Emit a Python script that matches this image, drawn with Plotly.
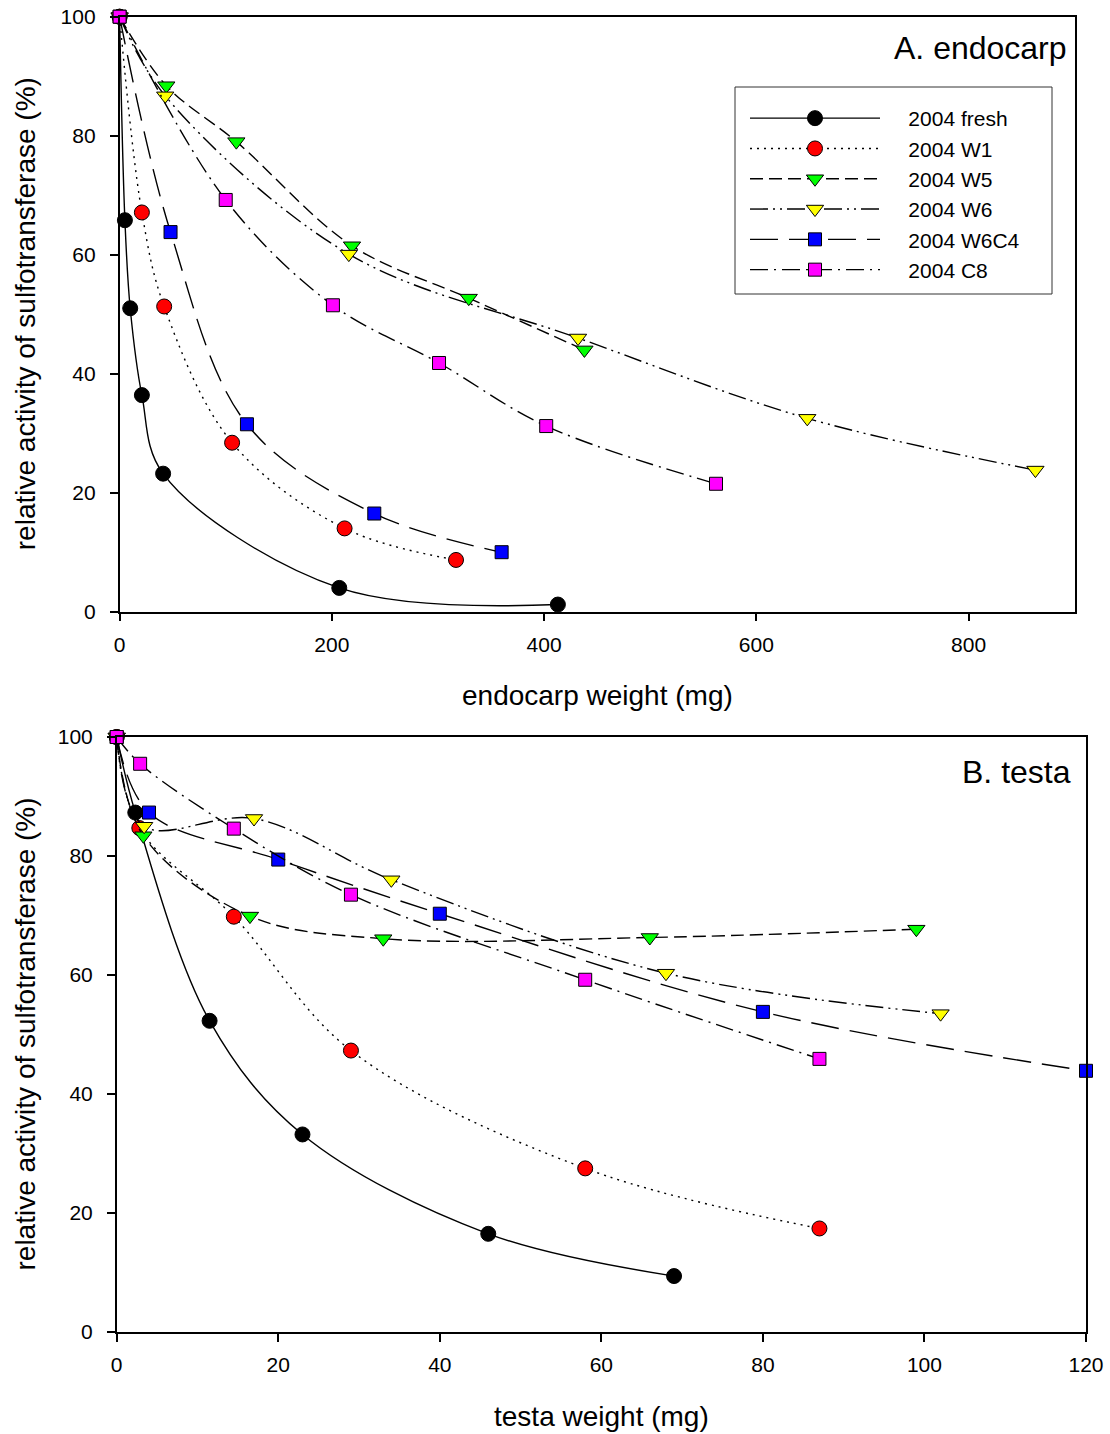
import plotly.graph_objects as go

# ---------------- data ----------------
series_names = ["2004 fresh", "2004 W1", "2004 W5", "2004 W6", "2004 W6C4", "2004 C8"]

# Panel A: endocarp
endo_fresh_x = [0, 5, 10, 21, 41, 207, 413]
endo_fresh_y = [100, 65.8, 51.0, 36.4, 23.2, 4.0, 1.2]
endo_w1_x = [0, 21, 42, 106, 212, 317]
endo_w1_y = [100, 67.1, 51.3, 28.4, 14.0, 8.7]
endo_w5_x = [0, 44, 110, 219, 329, 438]
endo_w5_y = [100, 88.4, 79.0, 61.5, 52.7, 44.0]
endo_w6_x = [0, 43, 216, 432, 648, 863]
endo_w6_y = [100, 86.7, 60.1, 46.0, 32.5, 23.8]
endo_w6c4_x = [0, 48, 120, 240, 360]
endo_w6c4_y = [100, 63.8, 31.5, 16.5, 10.0]
endo_c8_x = [0, 100, 201, 301, 402, 562]
endo_c8_y = [100, 69.2, 51.5, 41.8, 31.2, 21.5]

# Panel B: testa
testa_fresh_x = [0, 2.3, 11.5, 23, 46, 69]
testa_fresh_y = [100, 87.3, 52.3, 33.2, 16.5, 9.4]
testa_w1_x = [0, 2.8, 14.5, 29, 58, 87]
testa_w1_y = [100, 84.7, 69.8, 47.3, 27.5, 17.4]
testa_w5_x = [0, 3.3, 16.5, 33, 66, 99]
testa_w5_y = [100, 83.4, 69.9, 66.1, 66.3, 67.7]
testa_w6_x = [0, 3.4, 17, 34, 68, 102]
testa_w6_y = [100, 85.0, 86.3, 76.0, 60.3, 53.5]
testa_w6c4_x = [0, 4, 20, 40, 80, 120]
testa_w6c4_y = [100, 87.3, 79.4, 70.3, 53.8, 43.9]
testa_c8_x = [0, 2.9, 14.5, 29, 58, 87]
testa_c8_y = [100, 95.5, 84.6, 73.5, 59.2, 45.9]

x_ticks_a = [0, 200, 400, 600, 800]
x_ticks_b = [0, 20, 40, 60, 80, 100, 120]
y_ticks = [0, 20, 40, 60, 80, 100]

# ---------------- styles ----------------
styles = [
    dict(symbol="circle", color="black", size=15, dash="solid"),
    dict(symbol="circle", color="#ff0000", size=15, dash="2px,5px"),
    dict(symbol="triangle-down", color="#00ff00", size=15, dash="13px,6px"),
    dict(symbol="triangle-down", color="#ffff00", size=15, dash="18px,5px,2px,5px,2px,5px"),
    dict(symbol="square", color="#0000ff", size=13, dash="28px,11px"),
    dict(symbol="square", color="#ff00ff", size=13, dash="18px,6px,2px,6px"),
]

panel_a = [(endo_fresh_x, endo_fresh_y), (endo_w1_x, endo_w1_y), (endo_w5_x, endo_w5_y),
           (endo_w6_x, endo_w6_y), (endo_w6c4_x, endo_w6c4_y), (endo_c8_x, endo_c8_y)]
panel_b = [(testa_fresh_x, testa_fresh_y), (testa_w1_x, testa_w1_y), (testa_w5_x, testa_w5_y),
           (testa_w6_x, testa_w6_y), (testa_w6c4_x, testa_w6c4_y), (testa_c8_x, testa_c8_y)]

FONT = "Arial, Liberation Sans, sans-serif"
NBSP = "\u00a0"

fig = go.Figure()
for panel, (xa, ya, show) in zip([panel_a, panel_b], [("x", "y", True), ("x2", "y2", False)]):
    for name, (xs, ys), st in zip(series_names, panel, styles):
        fig.add_trace(go.Scatter(
            x=xs, y=ys, name=NBSP * 4 + name, xaxis=xa, yaxis=ya, showlegend=show,
            mode="lines+markers", cliponaxis=False,
            line=dict(color="black", width=1.4, dash=st["dash"], shape="spline", smoothing=1.0),
            marker=dict(symbol=st["symbol"], size=st["size"], color=st["color"],
                        line=dict(color="black", width=1)),
        ))

W, H = 1110, 1434
def px(v):
    return v / W
def py(v):
    return 1 - v / H

axis_common = dict(
    showline=True, linecolor="black", linewidth=1.5, mirror=True,
    ticks="outside", ticklen=8, tickwidth=1.5, tickcolor="black",
    showgrid=False, zeroline=False, automargin=False,
    tickfont=dict(family=FONT, size=21, color="black"),
)

fig.update_layout(
    template="none",
    width=W, height=H,
    margin=dict(l=0, r=0, t=0, b=0, pad=0, autoexpand=False),
    paper_bgcolor="white", plot_bgcolor="white",
    xaxis=dict(domain=[px(119.6), px(1074.7)], range=[0, 900], tickvals=x_ticks_a,
               anchor="y", ticklabelstandoff=5, **axis_common),
    yaxis=dict(domain=[py(611.7), py(16.7)], range=[0, 100], tickvals=y_ticks,
               anchor="x", ticklabelstandoff=10, **axis_common),
    xaxis2=dict(domain=[px(116.7), px(1086)], range=[0, 120], tickvals=x_ticks_b,
                anchor="y2", ticklabelstandoff=5, **axis_common),
    yaxis2=dict(domain=[py(1332), py(737)], range=[0, 100], tickvals=y_ticks,
                anchor="x2", ticklabelstandoff=10, **axis_common),
    legend=dict(
        x=px(745), y=py(98), xanchor="left", yanchor="top",
        borderwidth=0, bgcolor="rgba(0,0,0,0)",
        font=dict(family=FONT, size=21, color="black"),
        itemwidth=130, tracegroupgap=0,
    ),
    showlegend=True,
)

# legend frame
fig.add_shape(type="rect", xref="paper", yref="paper",
              x0=px(735), x1=px(1052), y0=py(294), y1=py(87),
              line=dict(color="#333333", width=1), fillcolor="rgba(0,0,0,0)", layer="above")

ann_font = dict(family=FONT, size=28, color="black")
fig.add_annotation(text="endocarp weight (mg)", x=px((119.6 + 1074.7) / 2), y=py(695),
                   xref="paper", yref="paper", xanchor="center", yanchor="middle",
                   showarrow=False, font=ann_font)
fig.add_annotation(text="testa weight (mg)", x=px((116.7 + 1086) / 2), y=py(1416),
                   xref="paper", yref="paper", xanchor="center", yanchor="middle",
                   showarrow=False, font=ann_font)
for yc in [(16.7 + 611.7) / 2, (737 + 1332) / 2]:
    fig.add_annotation(text="relative activity of sulfotransferase (%)", x=px(25), y=py(yc),
                       xref="paper", yref="paper", xanchor="center", yanchor="middle",
                       textangle=-90, showarrow=False, font=ann_font)
fig.add_annotation(text="A. endocarp", x=px(1069), y=py(48), xref="paper", yref="paper",
                   xanchor="right", yanchor="middle", showarrow=False,
                   font=dict(family=FONT, size=32, color="black"))
fig.add_annotation(text="B. testa", x=px(1073), y=py(772), xref="paper", yref="paper",
                   xanchor="right", yanchor="middle", showarrow=False,
                   font=dict(family=FONT, size=32, color="black"))

fig.write_html("out.html")
